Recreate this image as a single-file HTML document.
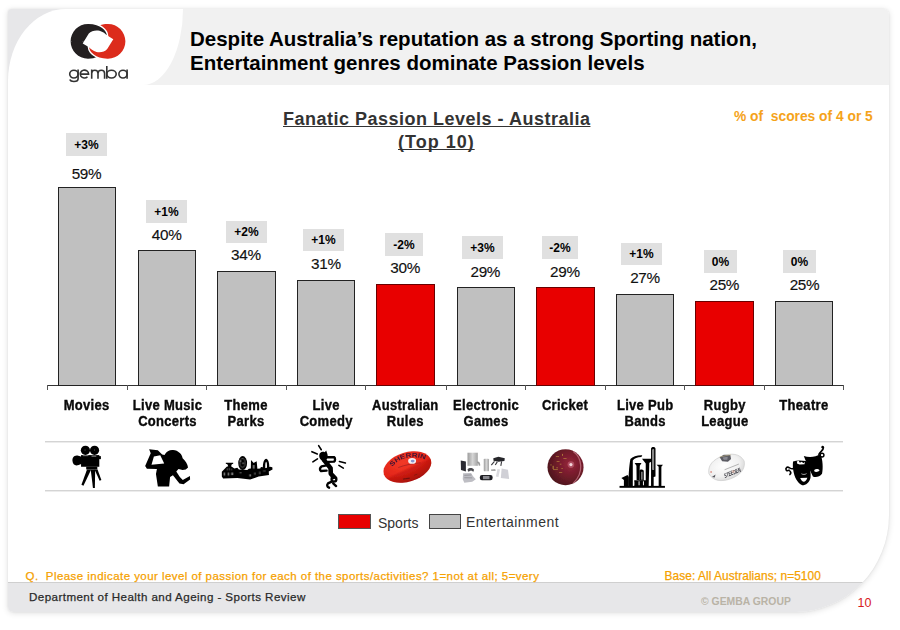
<!DOCTYPE html>
<html>
<head>
<meta charset="utf-8">
<title>Fanatic Passion Levels - Australia</title>
<style>
html,body{margin:0;padding:0;}
body{width:900px;height:630px;position:relative;overflow:hidden;background:#fff;font-family:"Liberation Sans",sans-serif;color:#000;}
.abs{position:absolute;}
#frame{left:8px;top:9px;width:881px;height:603px;background:#fff;border-radius:3px 5px 94px 5px / 3px 5px 97px 5px;box-shadow:0 1px 6px rgba(0,0,0,.13),0 0 2px rgba(0,0,0,.08);overflow:hidden;}
#hdrL{left:0;top:0;width:200px;height:76px;background:#e7e7e9;}
#hdrR{left:120px;top:0;width:761px;height:76px;background:#f1f1f1;}
#logoBg{left:0;top:0;width:175px;height:76px;background:#fff;border-radius:58px 0 40px 0 / 72px 0 76px 0;}
#foot{left:0;top:573px;width:881px;height:30px;background:#e7e7e9;border-top:1px solid #cfcfcf;box-sizing:border-box;}
.t{white-space:nowrap;line-height:1;}
#title1,#title2{left:190px;font-weight:bold;font-size:20.5px;letter-spacing:0px;}
#title1{top:28.7px;}
#title2{top:53px;}
#ct1,#ct2{font-weight:bold;font-size:18px;color:#333;text-decoration:underline;text-decoration-skip-ink:none;text-decoration-thickness:1.3px;}
#ct1{letter-spacing:.5px;}
#ct2{letter-spacing:1px;text-underline-offset:1px;}
#note{color:#f5a31a;font-weight:bold;font-size:13.8px;}
.bar{position:absolute;box-sizing:border-box;border:1px solid #222;background:#c0c0c0;}
.bar.r{background:#e80000;border-color:#6a0000;}
.val{position:absolute;font-size:15.3px;line-height:16px;white-space:nowrap;text-align:center;width:80px;letter-spacing:-.3px;color:#111;}
.val span{-webkit-text-stroke:.15px #111;}
.dl{position:absolute;width:41px;height:23px;background:#e0e0e0;font-size:12px;font-weight:bold;line-height:24.6px;text-align:center;overflow:hidden;}
.cat{position:absolute;width:90px;text-align:center;font-weight:bold;font-size:13px;line-height:15.3px;color:#0a0a0a;letter-spacing:.3px;-webkit-text-stroke:.35px #0a0a0a;transform:scaleY(1.08);transform-origin:50% 12px;}
.hl{position:absolute;left:45px;width:798px;height:2px;background:linear-gradient(#d4d4d4 50%,#ececec 50%);}
#q{color:#f5a100;font-size:11.5px;-webkit-text-stroke:.25px #f5a100;}
#base{color:#f5a100;font-size:11.9px;-webkit-text-stroke:.25px #f5a100;}
#dept{font-size:11.6px;color:#2a2a2a;-webkit-text-stroke:.25px #2a2a2a;}
#copy{font-size:10.4px;font-weight:bold;color:#b9b3a6;}
#pg{font-size:12.5px;color:#d8201c;}
.lg{font-size:14px;color:#333;}
</style>
</head>
<body>
<div id="frame" class="abs">
  <div id="hdrL" class="abs"></div>
  <div id="hdrR" class="abs"></div>
  <div id="logoBg" class="abs"></div>
  <div id="foot" class="abs"></div>
</div>

<div id="title1" class="abs t">Despite Australia’s reputation as a strong Sporting nation,</div>
<div id="title2" class="abs t">Entertainment genres dominate Passion levels</div>

<div id="ct1" class="abs t" style="left:283px;top:110px;">Fanatic Passion Levels - Australia</div>
<div id="ct2" class="abs t" style="left:398px;top:133px;">(Top 10)</div>
<div id="note" class="abs t" style="left:734px;top:109.5px;">% of&nbsp; scores of 4 or 5</div>

<svg class="abs" id="logo" style="left:60px;top:15px;" width="80" height="80" viewBox="60 15 80 80">
  <defs>
    <path id="cres" d="M8.9 -6 C8.6 -10.5 2.5 -17.6 -10 -17.4 C-19.6 -17.4 -27.4 -9.6 -27.4 0 C-27.4 9.6 -19.6 17.4 -10 17.4 C-6 17.4 -3 16.8 -1 15.5 L-4 11 L-8.5 6.2 L-15.3 2.1 L-9.2 -7.8 C-6.8 -10.8 -2 -11.4 1.5 -10.6 C5 -9.7 7.6 -7.4 8.9 -6 Z"/>
    <clipPath id="topHalf"><rect x="-30" y="-20" width="60" height="20"/></clipPath>
  </defs>
  <g transform="translate(98 41.3)">
    <use href="#cres" fill="#231f20"/>
    <use href="#cres" transform="rotate(180)" fill="#dc2b1c" stroke="#fff" stroke-width="2.6" paint-order="stroke"/>
    <g clip-path="url(#topHalf)"><use href="#cres" fill="#231f20" stroke="#fff" stroke-width="2.6" paint-order="stroke"/></g>
  </g>
  <g fill="none" stroke="#333" stroke-width="1.6" stroke-linecap="butt">
    <!-- g -->
    <ellipse cx="73.9" cy="74.1" rx="4.2" ry="3.9"/>
    <path d="M78.1 69.6 V78.8 C78.1 80.8 76.4 81.5 73.9 81.5 C71.8 81.5 70.3 80.8 69.8 79.5"/>
    <!-- e -->
    <path d="M80.2 74.1 H88.6 A4.2 3.9 0 1 0 87.5 76.7"/>
    <!-- m -->
    <path d="M91.7 78.8 V69.6 M91.7 73.5 A3.15 3.2 0 0 1 98 73.5 V78.8 M98 73.5 A3.3 3.2 0 0 1 104.6 73.5 V78.8"/>
    <!-- b -->
    <path d="M106.8 66 V78.8"/>
    <ellipse cx="111.5" cy="74.1" rx="4.7" ry="3.9"/>
    <!-- a -->
    <ellipse cx="123" cy="74.1" rx="4.1" ry="3.9"/>
    <path d="M127.1 69.6 V78.8"/>
  </g>
</svg>
<div class="abs" style="left:47px;top:385px;width:797px;height:1px;background:#333;"></div>
<div class="abs" style="left:47px;top:385px;width:1px;height:5px;background:#555;"></div>
<div class="abs" style="left:127px;top:385px;width:1px;height:5px;background:#555;"></div>
<div class="abs" style="left:206px;top:385px;width:1px;height:5px;background:#555;"></div>
<div class="abs" style="left:286px;top:385px;width:1px;height:5px;background:#555;"></div>
<div class="abs" style="left:365px;top:385px;width:1px;height:5px;background:#555;"></div>
<div class="abs" style="left:446px;top:385px;width:1px;height:5px;background:#555;"></div>
<div class="abs" style="left:525px;top:385px;width:1px;height:5px;background:#555;"></div>
<div class="abs" style="left:605px;top:385px;width:1px;height:5px;background:#555;"></div>
<div class="abs" style="left:684px;top:385px;width:1px;height:5px;background:#555;"></div>
<div class="abs" style="left:764px;top:385px;width:1px;height:5px;background:#555;"></div>
<div class="abs" style="left:843px;top:385px;width:1px;height:5px;background:#555;"></div>
<div class="bar" style="left:58px;top:187px;width:58px;height:199px;"></div>
<div class="dl" id="d0" style="left:66px;top:133px;width:41px;height:23px;line-height:24.6px;">+3%</div>
<div class="val" id="v0" style="left:46.5px;top:165.5px;"><span>59%</span></div>
<div class="cat" id="c0" style="left:41.6px;top:398px;">Movies</div>
<div class="bar" style="left:138px;top:250px;width:58px;height:136px;"></div>
<div class="dl" id="d1" style="left:146px;top:200px;width:41px;height:23px;line-height:24.6px;">+1%</div>
<div class="val" id="v1" style="left:126.7px;top:227.3px;"><span>40%</span></div>
<div class="cat" id="c1" style="left:122.5px;top:398px;">Live Music<br>Concerts</div>
<div class="bar" style="left:217px;top:271px;width:59px;height:115px;"></div>
<div class="dl" id="d2" style="left:226px;top:221px;width:41px;height:22px;line-height:23.6px;">+2%</div>
<div class="val" id="v2" style="left:205.9px;top:247.0px;"><span>34%</span></div>
<div class="cat" id="c2" style="left:201.0px;top:398px;">Theme<br>Parks</div>
<div class="bar" style="left:297px;top:280px;width:58px;height:106px;"></div>
<div class="dl" id="d3" style="left:303px;top:229px;width:41px;height:22px;line-height:23.6px;">+1%</div>
<div class="val" id="v3" style="left:285.9px;top:255.9px;"><span>31%</span></div>
<div class="cat" id="c3" style="left:281.2px;top:398px;">Live<br>Comedy</div>
<div class="bar r" style="left:376px;top:284px;width:59px;height:102px;"></div>
<div class="dl" id="d4" style="left:385px;top:233px;width:38px;height:23px;line-height:24.6px;">-2%</div>
<div class="val" id="v4" style="left:365.2px;top:259.8px;"><span>30%</span></div>
<div class="cat" id="c4" style="left:360.3px;top:398px;">Australian<br>Rules</div>
<div class="bar" style="left:457px;top:287px;width:58px;height:99px;"></div>
<div class="dl" id="d5" style="left:462px;top:236px;width:41px;height:23px;line-height:24.6px;">+3%</div>
<div class="val" id="v5" style="left:445.3px;top:263.7px;"><span>29%</span></div>
<div class="cat" id="c5" style="left:441.0px;top:398px;">Electronic<br>Games</div>
<div class="bar r" style="left:536px;top:287px;width:59px;height:99px;"></div>
<div class="dl" id="d6" style="left:542px;top:236px;width:36px;height:23px;line-height:24.6px;">-2%</div>
<div class="val" id="v6" style="left:524.9px;top:263.7px;"><span>29%</span></div>
<div class="cat" id="c6" style="left:520.0px;top:398px;">Cricket</div>
<div class="bar" style="left:616px;top:294px;width:58px;height:92px;"></div>
<div class="dl" id="d7" style="left:621px;top:243px;width:41px;height:22px;line-height:23.6px;">+1%</div>
<div class="val" id="v7" style="left:605.0px;top:270.3px;"><span>27%</span></div>
<div class="cat" id="c7" style="left:600.2px;top:398px;">Live Pub<br>Bands</div>
<div class="bar r" style="left:695px;top:301px;width:59px;height:85px;"></div>
<div class="dl" id="d8" style="left:704px;top:250px;width:33px;height:23px;line-height:24.6px;">0%</div>
<div class="val" id="v8" style="left:684.3px;top:277.3px;"><span>25%</span></div>
<div class="cat" id="c8" style="left:679.8px;top:398px;">Rugby<br>League</div>
<div class="bar" style="left:775px;top:301px;width:58px;height:85px;"></div>
<div class="dl" id="d9" style="left:783px;top:250px;width:33px;height:23px;line-height:24.6px;">0%</div>
<div class="val" id="v9" style="left:764.5px;top:277.3px;"><span>25%</span></div>
<div class="cat" id="c9" style="left:758.9px;top:398px;">Theatre</div>
<svg class="abs" id="icons" style="left:0;top:0;" width="900" height="630" viewBox="0 0 900 630">
  <defs>
    <filter id="soft" x="-10%" y="-10%" width="120%" height="120%"><feGaussianBlur stdDeviation="0.35"/></filter>
    <filter id="soft2" x="-10%" y="-10%" width="120%" height="120%"><feGaussianBlur stdDeviation="0.6"/></filter>
    <radialGradient id="gAfl" cx="0.45" cy="0.3" r="0.8"><stop offset="0" stop-color="#f23a28"/><stop offset="0.6" stop-color="#e32518"/><stop offset="1" stop-color="#c01a10"/></radialGradient>
    <radialGradient id="gCrk" cx="0.62" cy="0.42" r="0.65"><stop offset="0" stop-color="#96243a"/><stop offset="0.5" stop-color="#741c2b"/><stop offset="1" stop-color="#4c161c"/></radialGradient>
    <radialGradient id="gRug" cx="0.45" cy="0.4" r="0.7"><stop offset="0" stop-color="#ffffff"/><stop offset="0.6" stop-color="#f0f0f0"/><stop offset="1" stop-color="#cfcfcf"/></radialGradient>
    <linearGradient id="gAflSh" x1="0.38" y1="0" x2="0.62" y2="1"><stop offset="0" stop-color="#800" stop-opacity="0"/><stop offset="0.52" stop-color="#800" stop-opacity="0"/><stop offset="0.6" stop-color="#900" stop-opacity="0.3"/><stop offset="1" stop-color="#700" stop-opacity="0.45"/></linearGradient>
    <linearGradient id="gSil" x1="0" x2="1"><stop offset="0" stop-color="#9c9c9c"/><stop offset="0.5" stop-color="#d6d6d6"/><stop offset="1" stop-color="#a4a4a4"/></linearGradient>
  </defs>

  <!-- 1 movie camera -->
  <g id="icCam" transform="translate(62 442) scale(0.07937)" fill="#000" filter="url(#soft)">
    <circle cx="295" cy="105" r="58"/>
    <circle cx="410" cy="105" r="58"/>
    <rect x="240" y="165" width="230" height="147"/>
    <path d="M250 185 L205 172 C150 160 128 200 132 240 C136 285 165 305 210 290 L250 275 Z"/>
    <rect x="455" y="178" width="35" height="38"/>
    <rect x="305" y="310" width="140" height="36"/>
    <path d="M315 345 L368 345 L270 552 L245 540 Z"/>
    <path d="M362 345 L418 345 L414 578 L390 580 Z"/>
    <path d="M410 345 L448 345 L496 478 L474 488 Z"/>
  </g>
  <g transform="translate(62 442) scale(0.07937)" fill="#fff" opacity="0.6">
    <rect x="262" y="168" width="70" height="10"/><rect x="372" y="172" width="60" height="12"/>
    <circle cx="290" cy="100" r="6"/><circle cx="408" cy="100" r="6"/>
  </g>

  <!-- 2 singer -->
  <g id="icSing" transform="translate(135 442) scale(0.07937)" fill="#000" filter="url(#soft)">
    <path fill-rule="evenodd" d="M178 92 L288 103 L342 158 L372 165 C395 115 440 98 480 102 C545 108 590 150 600 205 C640 240 662 280 668 322 L640 345 L600 352 L548 340 L520 372 L565 440 L602 478 L692 428 L694 472 L612 532 L560 522 L478 420 L442 440 L430 562 L288 562 L264 402 L276 340 L150 338 L128 302 L198 142 Z M238 182 L318 166 L368 270 L208 286 Z"/>
  </g>

  <!-- 3 theme park -->
  <g id="icPark" transform="translate(216 448) scale(0.07111)" fill="#000" filter="url(#soft)">
    <path d="M82 335 L150 262 L172 258 L160 228 L138 222 L138 206 L242 206 L242 222 L222 230 L212 258 L258 288 L300 278 L322 302 L440 308 L462 292 L490 288 L492 170 L530 210 L572 185 L582 292 L622 288 L632 268 L662 272 L668 292 L760 262 L792 272 L795 302 L742 332 L745 380 L600 402 L480 444 L300 422 L100 428 L82 402 Z"/>
    <ellipse cx="375" cy="212" rx="62" ry="98"/>
    <path fill-rule="evenodd" d="M660 295 C656 200 680 152 705 152 C730 152 754 200 750 295 Z M693 285 C691 225 698 195 705 195 C712 195 719 225 717 285 Z"/>
  </g>
  <g transform="translate(216 448) scale(0.07111)" fill="#fff" filter="url(#soft)">
    <ellipse cx="372" cy="210" rx="36" ry="62" fill="none" stroke="#fff" stroke-width="10" opacity="0.45"/>
    <circle cx="345" cy="185" r="9" opacity="0.8"/><circle cx="380" cy="215" r="13" fill="#999" opacity="0.8"/>
    <g opacity="0.6">
    <rect x="108" y="345" width="18" height="42"/><rect x="165" y="345" width="18" height="42"/><rect x="215" y="345" width="25" height="35"/>
    <rect x="150" y="285" width="8" height="30"/><rect x="185" y="280" width="8" height="35"/><rect x="215" y="290" width="8" height="25"/>
    <rect x="330" y="345" width="30" height="10"/><rect x="470" y="370" width="20" height="30"/><rect x="540" y="345" width="12" height="30"/>
    <rect x="610" y="330" width="10" height="40"/><rect x="660" y="320" width="40" height="8"/><rect x="520" y="240" width="20" height="50"/>
    </g>
  </g>

  <!-- 4 comedian -->
  <g id="icCom" transform="translate(300 442) scale(0.07937)" fill="none" stroke="#000" stroke-linecap="round" stroke-linejoin="round" filter="url(#soft)">
    <path fill="#000" stroke="none" d="M242 168 C244 128 282 112 312 128 L330 108 L345 150 C358 190 340 232 300 238 C262 236 240 205 242 168 Z"/>
    <path stroke-width="30" d="M338 192 L428 190 C446 202 446 236 428 248 L352 250"/>
    <path stroke-width="58" d="M300 225 L350 285 L385 330 L388 400 L425 440"/>
    <path stroke-width="30" d="M335 295 L272 308 C246 330 246 352 264 366 L335 360"/>
    <circle cx="428" cy="468" r="30" stroke-width="30"/>
    <path stroke-width="30" d="M400 500 L352 522 C336 540 340 565 366 576"/>
    <path stroke-width="30" d="M418 520 L455 555"/>
    <path stroke-width="20" d="M235 45 L268 98 M150 122 L218 150 M162 250 L220 212 M497 245 L572 265 M490 295 L546 330"/>
  </g>

  <!-- 5 AFL ball -->
  <g id="icAfl" transform="translate(376 442) scale(0.07937)" filter="url(#soft2)">
    <ellipse cx="395" cy="315" rx="310" ry="185" transform="rotate(-17 395 315)" fill="url(#gAfl)"/>
    <ellipse cx="395" cy="315" rx="310" ry="185" transform="rotate(-17 395 315)" fill="url(#gAflSh)"/>
    <path id="aflArc" d="M204 312 C290 204 470 150 640 232" fill="none"/>
    <text font-family="Liberation Sans, sans-serif" font-weight="bold" font-size="80" fill="#2c1236" opacity="0.9" textLength="455" lengthAdjust="spacingAndGlyphs"><textPath href="#aflArc">SHERRIN</textPath></text>
    <path d="M280 322 C360 290 470 270 560 262" fill="none" stroke="#7a1a20" stroke-width="9" opacity="0.7"/>
    <ellipse cx="455" cy="238" rx="50" ry="36" fill="#f4f0f4"/>
    <ellipse cx="462" cy="240" rx="24" ry="17" fill="#5a70c0" opacity="0.7"/>
    <path d="M340 468 L425 455" stroke="#5a1010" stroke-width="16" opacity="0.7"/>
    <path d="M480 420 L520 405" stroke="#5a1010" stroke-width="12" opacity="0.5"/>
  </g>

  <!-- 6 electronic games -->
  <g id="icGame" transform="translate(454 442) scale(0.07937)" filter="url(#soft2)">
    <rect x="170" y="135" width="130" height="165" fill="url(#gSil)"/>
    <path d="M290 245 C320 240 335 265 330 300 L310 295 C310 275 300 265 290 265 Z" fill="#9a9a9a"/>
    <path d="M85 232 L150 245 L150 372 L88 352 Z" fill="#2c2c30"/>
    <path d="M170 345 C190 320 240 322 252 350 L245 375 L215 360 L180 375 Z" fill="#4a4a4e"/>
    <rect x="375" y="210" width="66" height="160" rx="12" fill="url(#gSil)"/>
    <path d="M495 205 L560 185 L640 205 L635 240 L560 250 L498 235 Z" fill="#26262a"/>
    <path d="M510 245 L470 290 M600 245 L590 300 M545 250 L520 290" stroke="#3a3a3e" stroke-width="14" fill="none"/>
    <path d="M465 345 L520 340 L525 365 L470 365 Z" fill="#aaa"/>
    <path d="M600 335 L680 350 L695 465 L590 455 Z" fill="#d0d0d6"/>
    <path d="M548 340 L580 345 L560 440 L528 435 Z" fill="#dadade"/>
    <rect x="325" y="415" width="162" height="66" rx="28" fill="#1e1e22"/>
    <rect x="365" y="428" width="82" height="40" fill="#8a8a90"/>
    <path d="M115 395 L215 390 L240 430 L275 470 L230 500 L130 512 L110 470 Z" fill="#bebec4"/>
    <path d="M130 420 L220 415 M130 450 L230 452" stroke="#8c8c92" stroke-width="10"/>
  </g>

  <!-- 7 cricket ball -->
  <g id="icCrk" transform="translate(536 442) scale(0.07937)" filter="url(#soft2)">
    <circle cx="372" cy="317" r="227" fill="url(#gCrk)"/>
    <path d="M470 120 C580 200 610 380 470 520" fill="none" stroke="#c9798a" stroke-width="16" opacity="0.75"/>
    <circle cx="440" cy="285" r="20" fill="#fff" opacity="0.95"/>
    <circle cx="440" cy="285" r="42" fill="#e8a0b0" opacity="0.35"/>
    <g fill="#c8a040" opacity="0.85">
      <rect x="250" y="180" width="40" height="8"/><rect x="330" y="150" width="10" height="24"/><rect x="345" y="205" width="40" height="8"/>
      <rect x="260" y="240" width="36" height="8"/><rect x="210" y="300" width="12" height="40"/><rect x="215" y="345" width="60" height="8"/>
      <rect x="290" y="380" width="40" height="8"/><rect x="255" y="322" width="22" height="8"/><rect x="300" y="275" width="20" height="8"/>
      <rect x="180" y="285" width="18" height="8"/><rect x="320" y="330" width="18" height="8"/>
    </g>
  </g>

  <!-- 8 pub band -->
  <g id="icBand" transform="translate(612 442) scale(0.07937)" fill="#000" filter="url(#soft)">
    <rect x="95" y="553" width="572" height="24"/>
    <path fill-rule="evenodd" d="M492 85 C492 55 548 55 548 85 L548 435 L525 440 L525 555 L492 555 Z M510 95 L530 95 L530 350 L510 350 Z"/>
    <rect x="510" y="95" width="20" height="255" fill="#8a8a8a"/>
    <path d="M378 212 L500 212 L500 245 L470 262 L462 555 L425 555 L425 270 Z"/>
    <path d="M285 265 L372 265 L350 300 L345 480 L310 480 L308 300 Z"/>
    <path d="M562 288 L642 288 L622 312 L622 555 L588 555 L588 312 Z"/>
    <path d="M232 215 C260 185 320 165 382 168 L370 190 C320 192 280 205 262 232 L262 555 L210 555 C205 450 215 300 232 215 Z"/>
    <path d="M118 455 L195 415 L212 440 L212 555 L150 555 L150 480 Z"/>
    <path d="M280 482 L440 482 L440 555 L280 555 Z"/>
    <path d="M345 360 C350 340 395 340 400 365 L400 485 L345 485 Z"/>
  </g>
  <g transform="translate(612 442) scale(0.07937)" fill="#fff">
    <rect x="335" y="495" width="12" height="50"/><rect x="390" y="495" width="12" height="50"/><rect x="270" y="500" width="10" height="45"/>
    <rect x="372" y="375" width="10" height="100"/>
  </g>

  <!-- 9 rugby ball -->
  <g id="icRug" transform="translate(696 442) scale(0.07937)" filter="url(#soft2)">
    <g transform="translate(385 320) rotate(-20)">
      <path d="M-236 0 C-218 -108 -120 -152 0 -152 C120 -152 218 -108 236 0 C218 108 120 152 0 152 C-120 152 -218 108 -236 0 Z" fill="url(#gRug)" stroke="#d0d0d0" stroke-width="9"/>
    </g>
    <path d="M298 192 L350 160 L432 165 L442 215 L402 250 L330 242 Z" fill="#5c5c64"/>
    <path d="M335 195 L400 185 L395 225 L350 225 Z" fill="#8a8a92"/>
    <path d="M298 188 L440 160" stroke="#d8c890" stroke-width="8" fill="none" opacity="0.8"/>
    <path d="M360 350 L540 278" stroke="#9a9a9a" stroke-width="9" fill="none"/>
    <text transform="rotate(-21 365 452)" x="365" y="452" font-family="Liberation Sans, sans-serif" font-weight="bold" font-style="italic" font-size="78" fill="#34343c" textLength="218" lengthAdjust="spacingAndGlyphs">STEEDEN</text>
    <path d="M200 442 L246 410 L236 446 Z" fill="#55555c"/>
    <circle cx="190" cy="378" r="10" fill="#d06050"/>
    <circle cx="470" cy="372" r="20" fill="#e0b0a0" opacity="0.6"/>
  </g>

  <!-- 10 theatre masks -->
  <g id="icMask" transform="translate(776 442) scale(0.07937)" filter="url(#soft)">
    <path d="M350 175 C420 200 500 190 560 150 C590 220 595 330 580 400 C550 440 500 450 465 435 L400 300 Z" fill="#000"/>
    <path d="M215 245 C270 225 330 235 375 240 C420 270 445 380 435 450 C420 510 380 545 330 545 C270 520 230 440 218 360 C212 320 210 280 215 245 Z" fill="#000"/>
    <path d="M540 155 C560 120 600 100 598 70 C596 55 582 55 580 68" fill="none" stroke="#000" stroke-width="20" stroke-linecap="round"/>
    <circle cx="580" cy="165" r="24" fill="none" stroke="#000" stroke-width="18"/>
    <path d="M218 335 C180 350 160 300 135 320 C110 345 135 375 165 355 M175 365 C190 380 185 400 175 410" fill="none" stroke="#000" stroke-width="20" stroke-linecap="round"/>
    <path d="M305 455 L395 450 C385 485 365 500 350 502 C335 500 315 485 305 455 Z" fill="#fff"/>
    <path d="M262 245 L285 235 L300 262 L325 250 L345 268 L362 248 L360 280 L300 285 L268 275 Z" fill="#fff"/>
    <path d="M482 352 C500 335 535 338 550 355 C535 378 500 382 482 370 Z" fill="#fff"/>
    <path d="M320 400 C340 412 365 412 385 398" stroke="#fff" stroke-width="8" fill="none"/>
  </g>
</svg>
<div class="hl" style="top:441px;"></div>
<div class="hl" style="top:490px;"></div>

<div class="abs" style="left:338px;top:514px;width:33px;height:15px;box-sizing:border-box;border:1px solid #555;background:#e80000;"></div>
<div id="lg1" class="abs t lg" style="left:378px;top:516px;">Sports</div>
<div class="abs" style="left:429px;top:514px;width:32px;height:15px;box-sizing:border-box;border:1px solid #444;background:#c0c0c0;"></div>
<div id="lg2" class="abs t lg" style="left:466px;top:515.3px;letter-spacing:.45px;">Entertainment</div>

<div id="q" class="abs t" style="left:25.5px;top:571px;letter-spacing:.447px;">Q.&nbsp; Please indicate your level of passion for each of the sports/activities? 1=not at all; 5=very</div>
<div id="base" class="abs t" style="left:664.5px;top:571px;letter-spacing:.07px;">Base: All Australians; n=5100</div>
<div id="dept" class="abs t" style="left:29px;top:590.8px;letter-spacing:.43px;">Department of Health and Ageing - Sports Review</div>
<div id="copy" class="abs t" style="left:701px;top:597px;">© GEMBA GROUP</div>
<div id="pg" class="abs t" style="left:857.6px;top:597px;">10</div>
</body>
</html>
